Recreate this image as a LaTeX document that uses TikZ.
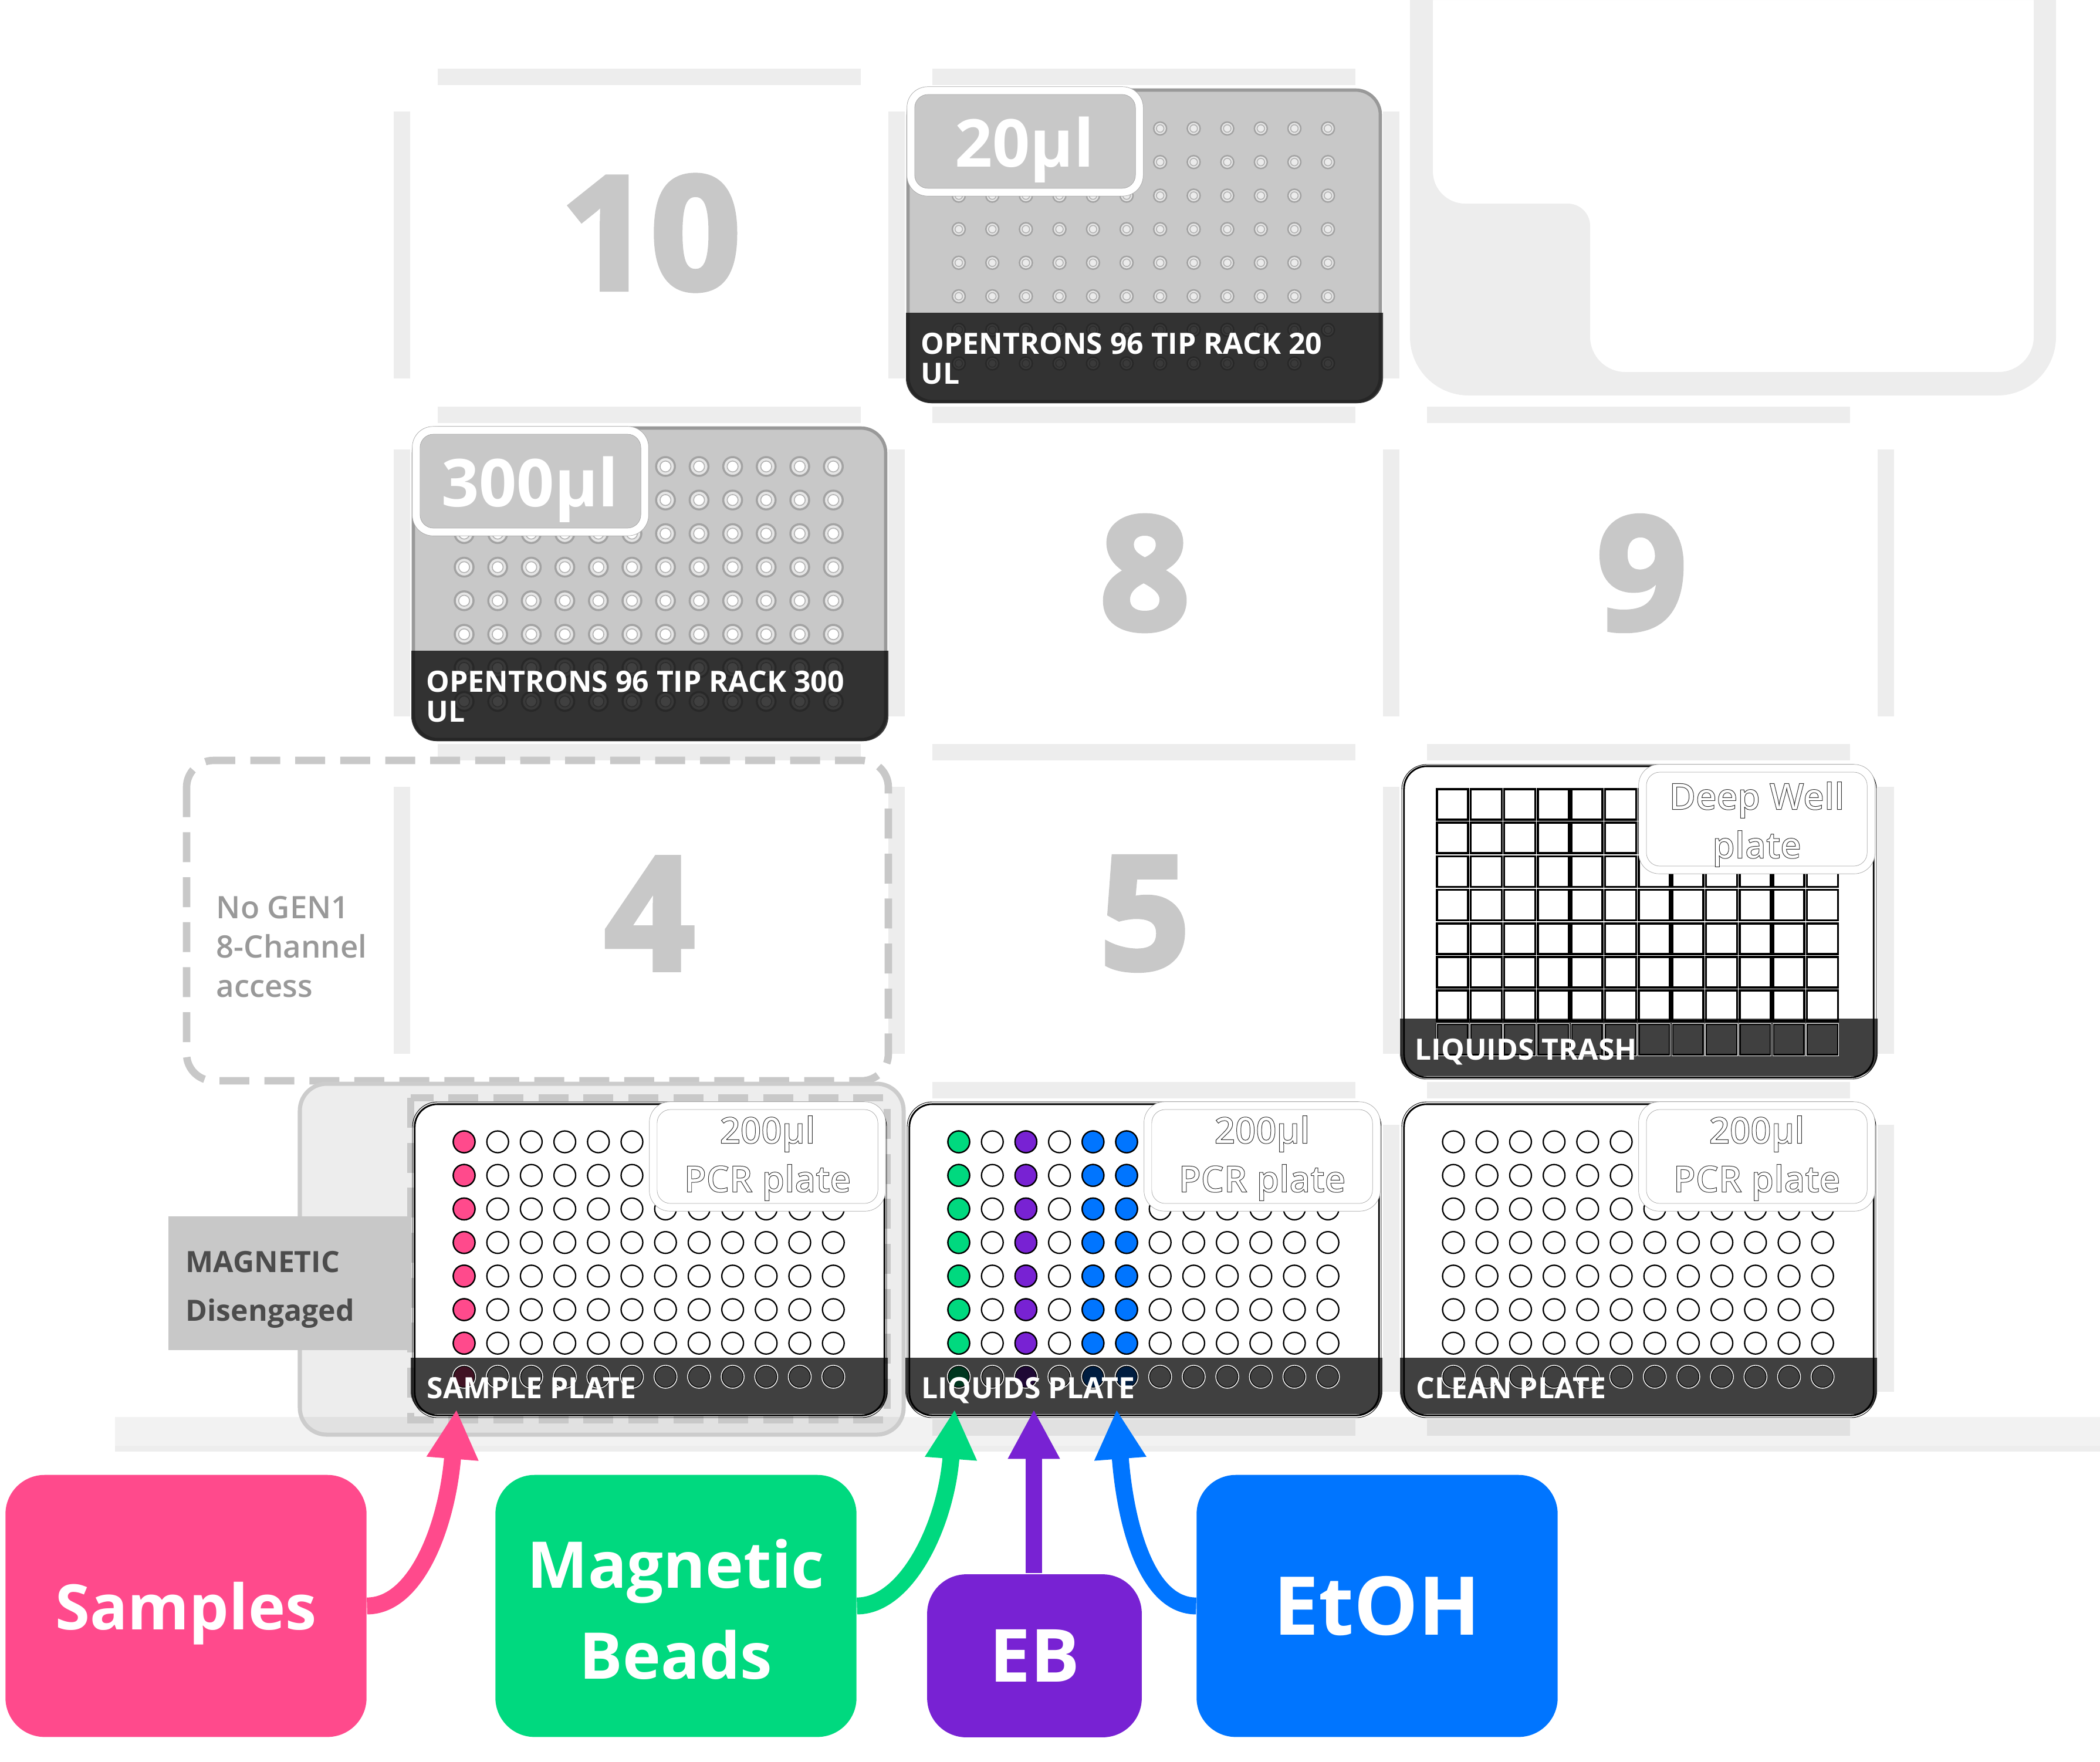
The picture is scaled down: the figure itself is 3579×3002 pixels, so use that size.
\documentclass[tikz,border=0pt]{standalone}
\usepackage{fontspec}
\usepackage{tikz}
\usetikzlibrary{arrows.meta}
\setmainfont{Open Sans}
\newfontfamily\semifont{Open Sans Semibold}
\definecolor{samplepink}{HTML}{FF4A8C}
\definecolor{beadgreen}{HTML}{00D97F}
\definecolor{ebpurple}{HTML}{7822D3}
\definecolor{etohblue}{HTML}{0075FF}
\definecolor{rackgrey}{HTML}{C8C8C8}
\tikzset{
  deckbar/.style={fill=black, fill opacity=.07},
  slotnum/.style={text=rackgrey, inner sep=0pt, font=\bfseries\fontsize{76}{76}\selectfont},
  dashedslot/.style={draw=rackgrey, line width=3.6pt, dash pattern=on 14.5pt off 7.3pt},
  plate/.style={draw=black, fill=white, line width=.8pt, rounded corners=11pt, minimum width=227.6pt, minimum height=150.8pt, inner sep=0pt},
  rack/.style={draw=black!40, fill=rackgrey, line width=1.6pt, rounded corners=12pt, minimum width=228.9pt, minimum height=151pt, inner sep=0pt},
  tagouter/.style={draw=black!35, fill=white, line width=.2pt, rounded corners=10pt, minimum width=114.5pt, minimum height=53pt, inner sep=0pt},
  taginner/.style={draw=black!35, line width=.2pt, rounded corners=6.5pt, minimum width=107pt, minimum height=45.5pt, inner sep=0pt},
  bandtext/.style={text=white, inner sep=0pt, anchor=base west, align=left, font=\bfseries\fontsize{14.2}{14.5}\selectfont},
  welltext/.style={text=white, inner sep=0pt, align=center, font=\semifont\fontsize{17.6}{23.6}\selectfont},
  callout/.style={text=white, inner sep=0pt, rounded corners=19pt, minimum height=127pt, minimum width=175pt, align=center},
  flow/.style={line width=8.2pt, -{Triangle[length=24pt,width=23.5pt]}},
  wellring/.style={draw=black, fill=white, line width=.65pt},
  wellcol/.style={draw=black, line width=.65pt},
}
\newcommand{\hollowon}{\special{pdf:code 2 Tr 0.28 w 0.2 G}}
\newcommand{\hollowoff}{\special{pdf:code 0 Tr}}
\newcommand{\heavyon}{\special{pdf:code 2 Tr 2.5 w 0.784 G}}
% plate with wells, without its dark band
\newcommand{\pcrbase}[3]{
  \draw[black, line width=.25pt, rounded corners=12pt] (#1,#2) rectangle (#1+808,#2+538);
  \node[plate] (#3) at (#1+404,#2+269) {};
  \foreach \c in {0,...,11}
    \foreach \r in {0,...,7}
      \draw[wellring] ({#1+88+57.2*\c},{#2+68+57.2*\r}) circle (18.5);
}
\newcommand{\pcrcol}[4]{
  \foreach \r in {0,...,7}
    \draw[wellcol, fill=#4] ({#1+88+57.2*#3},{#2+68+57.2*\r}) circle (18.5);
}
% dark band, ring of the last row, label
\newcommand{\pcrband}[3]{
  \fill[black, fill opacity=.75] (#1-3,#2+436) [rounded corners=11pt] -- (#1-3,#2+532) -- (#1+810,#2+532) [sharp corners] -- (#1+810,#2+436) -- cycle;
  \foreach \c in {0,...,11}
    \draw[white, line width=.4pt] ({#1+88+57.2*\c},{#2+68+57.2*7}) circle (19.5);
  \node[bandtext] at (#1+24,#2+505) {#3};
}
\newcommand{\tiprack}[7]{
  \node[rack] (#3) at (#1+404,#2+267) {};
  \foreach \c in {0,...,11}
    \foreach \r in {0,...,7} {
      \draw[draw=black!36, fill=black!10, line width=#4pt] ({#1+88+57.2*\c},{#2+67+57.2*\r}) circle (#5);
      \draw[draw=black!30, fill=#7, line width=.45pt] ({#1+88+57.2*\c},{#2+67+57.2*\r}) circle (#5*.58);
    }
  \fill[black, fill opacity=.75] (#1-2,#2+381) [rounded corners=12pt] -- (#1-2,#2+535) -- (#1+811,#2+535) [sharp corners] -- (#1+811,#2+381) -- cycle;
  \node[bandtext] at (#1+23,#2+502) {#6};
}
\newcommand{\pcrtag}[3]{
  \node[tagouter] (#3) at (#1+605,#2+93) {};
  \node[taginner] (#3in) at (#1+605,#2+93) {};
  \node[welltext] (#3txt) at (#1+605,#2+96) {\hollowon 200µl\\PCR plate\hollowoff};
}
\begin{document}
\begin{tikzpicture}[x=0.01cm,y=-0.01cm]
  \useasboundingbox (0,0) rectangle (3579,3002);
  % deck slots
  \foreach \k/\row in {0/0,0/1,0/2,1/0,1/1,1/2,2/0,2/1,2/2,2/3,3/1,3/2,3/3}
    \fill[deckbar] ({671+843*\k},{190+575.5*\row}) rectangle ++(28,455);
  \foreach \k/\row in {0/0,1/0,0/1,1/1,2/1,0/2,1/2,2/2,1/3,2/3,1/4,2/4}
    \fill[deckbar] ({746+843*\k},{117+575.5*\row}) rectangle ++(721,28);
  \fill[black, fill opacity=.05] (196,2415) rectangle (3579,2474);
  \fill[black, fill opacity=.02] (196,2464) rectangle (3579,2474);
  % trash
  \fill[black, fill opacity=.07, even odd rule] (2403,0) -- (2403,574) arc[start angle=180, end angle=90, radius=100] -- (3404,674)
    arc[start angle=90, end angle=0, radius=100] -- (3504,0) -- cycle
    (2442,0) -- (2442,292) arc[start angle=180, end angle=90, radius=55] -- (2672,347)
    arc[start angle=-90, end angle=0, radius=38] -- (2710,574) arc[start angle=180, end angle=90, radius=60] -- (3406,634)
    arc[start angle=90, end angle=0, radius=60] -- (3466,0) -- cycle;
  % slot numbers
  \node[slotnum] (ten) at (1109,397) {\heavyon 10\hollowoff};
  \node[slotnum] (eight) at (1951,977) {\heavyon 8\hollowoff};
  \node[slotnum] (nine) at (2798,977) {\heavyon 9\hollowoff};
  \node[slotnum] (four) at (1107,1557) {\heavyon 4\hollowoff};
  \node[slotnum] (five) at (1951,1557) {\heavyon 5\hollowoff};
  % no access region
  \draw[dashedslot, rounded corners=13pt] (318,1296) rectangle (1514,1842);
  \node[text=black!40, inner sep=0pt, anchor=base west, align=left, font=\semifont\fontsize{15}{19}\selectfont] (gennote) at (368,1699) {No GEN1\\8-Channel\\access};
  % magnetic module
  \draw[draw=black!20, fill=black, fill opacity=.07, draw opacity=1, line width=2pt, rounded corners=13pt] (511,1847) rectangle (1540,2445);
  \draw[dashedslot] (700,1871) rectangle (1512,2420);
  \node[fill=rackgrey, inner sep=0pt, minimum width=118pt, minimum height=65pt] (magbox) at (494,2187) {};
  \node[text=black!70, inner sep=0pt, anchor=base west, align=left, font=\bfseries\fontsize{14.2}{23.6}\selectfont] (magtext) at (316,2251) {MAGNETIC\\Disengaged};
  % tip racks
  \tiprack{1546}{152}{rackeleven}{.7}{11}{OPENTRONS 96 TIP RACK 20\\UL}{black!8}
  \node[tagouter] (tageleven) at (1747,241) {};
  \node[taginner, fill=rackgrey] (tageleveni) at (1747,241) {};
  \node[text=white, inner sep=0pt, anchor=base, font=\bfseries\fontsize{32}{32}\selectfont] (tagelevent) at (1746,284) {20µl};
  \tiprack{703}{728}{rackseven}{1}{16}{OPENTRONS 96 TIP RACK 300\\UL}{white}
  \node[tagouter] (tagseven) at (904,820) {};
  \node[taginner, fill=rackgrey] (tagseveni) at (904,820) {};
  \node[text=white, inner sep=0pt, anchor=base, font=\bfseries\fontsize{32}{32}\selectfont] (tagsevent) at (903,863) {300µl};
  % deep well plate
  \draw[black, line width=.25pt, rounded corners=12pt] (2389,1303) rectangle (3198,1839);
  \node[plate] (trashplate) at (2793,1571) {};
  \foreach \c in {0,...,11}
    \foreach \r in {0,...,7}
      \draw[black, fill=white, line width=1pt] ({2449+57.3*\c},{1345+57.2*\r}) rectangle ++(53,52);
  \fill[black, fill opacity=.75] (2386,1736) [rounded corners=11pt] -- (2386,1834) -- (3200,1834) [sharp corners] -- (3200,1736) -- cycle;
  \foreach \c in {0,...,11}
    \draw[white, line width=.3pt] ({2448+57.3*\c},{1744}) rectangle ++(55,55);
  \node[bandtext] (trashlabel) at (2411,1806) {LIQUIDS TRASH};
  \node[tagouter] (tagtrash) at (2994,1396) {};
  \node[taginner] (tagtrashi) at (2994,1396) {};
  \node[welltext] (tagtrasht) at (2994,1405) {\hollowon Deep Well\\plate\hollowoff};
  % pcr plates
  \pcrbase{703}{1878}{sampleplate}
  \pcrcol{703}{1878}{0}{samplepink}
  \pcrband{703}{1878}{SAMPLE PLATE}
  \pcrtag{703}{1878}{tagsample}
  \pcrbase{1546}{1878}{liquidplate}
  \pcrcol{1546}{1878}{0}{beadgreen}
  \pcrcol{1546}{1878}{2}{ebpurple}
  \pcrcol{1546}{1878}{4}{etohblue}
  \pcrcol{1546}{1878}{5}{etohblue}
  \pcrband{1546}{1878}{LIQUIDS PLATE}
  \pcrtag{1546}{1878}{tagliquid}
  \pcrbase{2389}{1878}{cleanplate}
  \pcrband{2389}{1878}{CLEAN PLATE}
  \pcrtag{2389}{1878}{tagclean}
  % reagents
  \node[callout, fill=samplepink, text depth=0pt, font=\bfseries\fontsize{30.4}{30.4}\selectfont] (samples) at (317,2737) {Samples};
  \node[callout, fill=beadgreen, font=\bfseries\fontsize{31.2}{43.8}\selectfont] (beads) at (1152,2737) {\rule{0pt}{27pt}Magnetic\\Beads};
  \node[callout, fill=ebpurple, minimum width=104pt, minimum height=79pt, font=\bfseries\fontsize{35.5}{35.5}\selectfont] (eb) at (1763,2822) {EB};
  \node[callout, fill=etohblue, font=\bfseries\fontsize{39.3}{39.3}\selectfont] (etoh) at (2347,2737) {EtOH};
  \coordinate (tipsample) at (778,2402);
  \coordinate (tipbead) at (1627,2402);
  \coordinate (tipeb) at (1762,2402);
  \coordinate (tipetoh) at (1903,2402);
  \draw[flow, samplepink] (samples.east) .. controls (710,2737) and (762,2600) .. (tipsample);
  \draw[flow, beadgreen] (beads.east) .. controls (1545,2737) and (1612,2600) .. (tipbead);
  \draw[flow, ebpurple] (1762,2681) -- (tipeb);
  \draw[flow, etohblue] (etoh.west) .. controls (1955,2737) and (1918,2600) .. (tipetoh);
\end{tikzpicture}
\end{document}
